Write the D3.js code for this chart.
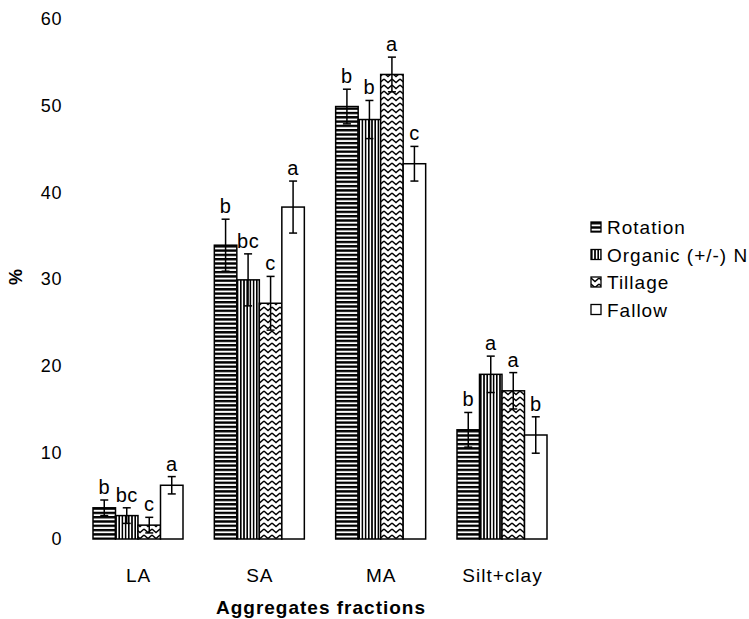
<!DOCTYPE html>
<html>
<head>
<meta charset="utf-8">
<script src="https://cdn.jsdelivr.net/npm/d3@7"></script>
<style>
  html, body { margin: 0; padding: 0; background: #fff; }
  svg { display: block; font-family: "Liberation Sans", Arial, sans-serif; }
</style>
</head>
<body>
<svg id="chart" width="749" height="619"></svg>
<script>
// Aggregate size fractions (%) by treatment
const categories = ["LA", "SA", "MA", "Silt+clay"];
const series = ["Rotation", "Organic (+/-) N", "Tillage", "Fallow"];
const rotation = [3.6, 33.9, 49.9, 12.6];
const organic  = [2.7, 29.9, 48.4, 19.0];
const tillage  = [1.6, 27.2, 53.6, 17.1];
const fallow   = [6.2, 38.3, 43.3, 12.0];
const rotationErr = [0.9, 3.0, 2.0, 2.0];
const organicErr  = [0.9, 3.0, 2.2, 2.1];
const tillageErr  = [0.9, 3.1, 2.0, 2.1];
const fallowErr   = [1.0, 3.0, 2.0, 2.1];
const rotationSig = ["b", "b", "b", "b"];
const organicSig  = ["bc", "bc", "b", "a"];
const tillageSig  = ["c", "c", "a", "a"];
const fallowSig   = ["a", "a", "c", "b"];
const yTicks = [0, 10, 20, 30, 40, 50, 60];

const values = [rotation, organic, tillage, fallow];
const errors = [rotationErr, organicErr, tillageErr, fallowErr];
const letters = [rotationSig, organicSig, tillageSig, fallowSig];
const fills = ["url(#pRot)", "url(#pOrg)", "url(#pTil)", "#fff"];

const svg = d3.select("#chart");

// Hatch patterns for the bars
const defs = svg.append("defs");
const pRot = defs.append("pattern").attr("id", "pRot").attr("patternUnits", "userSpaceOnUse")
  .attr("width", 4).attr("height", 4.3);
pRot.append("rect").attr("width", 4).attr("height", 4.3).attr("fill", "#fff");
pRot.append("rect").attr("width", 4).attr("height", 2.4).attr("fill", "#000");

const pOrg = defs.append("pattern").attr("id", "pOrg").attr("patternUnits", "userSpaceOnUse")
  .attr("width", 3.2).attr("height", 4);
pOrg.append("rect").attr("width", 3.2).attr("height", 4).attr("fill", "#fff");
pOrg.append("rect").attr("width", 1.6).attr("height", 4).attr("fill", "#000");

const pTil = defs.append("pattern").attr("id", "pTil").attr("patternUnits", "userSpaceOnUse")
  .attr("width", 8).attr("height", 6);
pTil.append("rect").attr("width", 8).attr("height", 6).attr("fill", "#fff");
pTil.append("path").attr("d", "M0,1 L4,4.5 L8,1").attr("fill", "none")
  .attr("stroke", "#000").attr("stroke-width", 1.4);

// Scales
const y = d3.scaleLinear().domain([0, 60]).range([539, 19]);
const xGroup = d3.scalePoint().domain(categories).range([138, 502]);
const xBar = d3.scaleBand().domain(series).range([-45, 45]).padding(0);

const FONT = "'Liberation Sans', Arial, sans-serif";

// Y axis tick labels (no axis line or ticks)
const yAxis = d3.axisLeft(y).tickValues(yTicks).tickSize(0).tickPadding(0);
svg.append("g").attr("transform", "translate(62,0)").call(yAxis)
  .call(g => g.select(".domain").remove())
  .call(g => g.selectAll("text").attr("font-size", 18).attr("letter-spacing", 0.6)
    .attr("fill", "#000").attr("font-family", FONT));

// X category labels
const xAxis = d3.axisBottom(xGroup).tickSize(0).tickPadding(0);
svg.append("g").attr("transform", "translate(0,568)").call(xAxis)
  .call(g => g.select(".domain").remove())
  .call(g => g.selectAll("text").attr("font-size", 19).attr("letter-spacing", 1)
    .attr("fill", "#000").attr("font-family", FONT));

// Bars, error bars and significance letters
series.forEach((s, si) => {
  const g = svg.append("g");
  categories.forEach((c, ci) => {
    const v = values[si][ci];
    const e = errors[si][ci];
    const x0 = xGroup(c) + xBar(s);
    const w = xBar.bandwidth();
    const cx = x0 + w / 2;
    g.append("rect")
      .attr("x", x0).attr("y", y(v))
      .attr("width", w).attr("height", y(0) - y(v))
      .attr("fill", fills[si]).attr("stroke", "#000").attr("stroke-width", 1.5);
    g.append("line").attr("x1", cx).attr("x2", cx)
      .attr("y1", y(v + e)).attr("y2", y(v - e))
      .attr("stroke", "#000").attr("stroke-width", 1.5);
    [v + e, v - e].forEach(t => {
      g.append("line").attr("x1", cx - 4).attr("x2", cx + 4)
        .attr("y1", y(t)).attr("y2", y(t))
        .attr("stroke", "#000").attr("stroke-width", 1.5);
    });
    g.append("text").attr("x", cx).attr("y", y(v + e) - 6)
      .attr("text-anchor", "middle").attr("font-size", 20).attr("letter-spacing", 0.5)
      .text(letters[si][ci]);
  });
});

// Axis titles
svg.append("text").attr("transform", "translate(22,277) rotate(-90)")
  .attr("text-anchor", "middle").attr("font-size", 18).attr("font-weight", "bold")
  .text("%");
svg.append("text").attr("x", 321).attr("y", 614)
  .attr("text-anchor", "middle").attr("font-size", 19).attr("font-weight", "bold")
  .attr("letter-spacing", 1)
  .text("Aggregates fractions");

// Legend
const legend = svg.append("g").attr("transform", "translate(591,222)");
series.forEach((s, si) => {
  const row = legend.append("g").attr("transform", `translate(0,${si * 27.5})`);
  row.append("rect").attr("x", 0).attr("y", 0).attr("width", 10).attr("height", 10)
    .attr("fill", fills[si]).attr("stroke", "#000").attr("stroke-width", 1.3);
  row.append("text").attr("x", 16).attr("y", 12).attr("font-size", 19)
    .attr("letter-spacing", 1).text(s);
});
</script>
</body>
</html>
